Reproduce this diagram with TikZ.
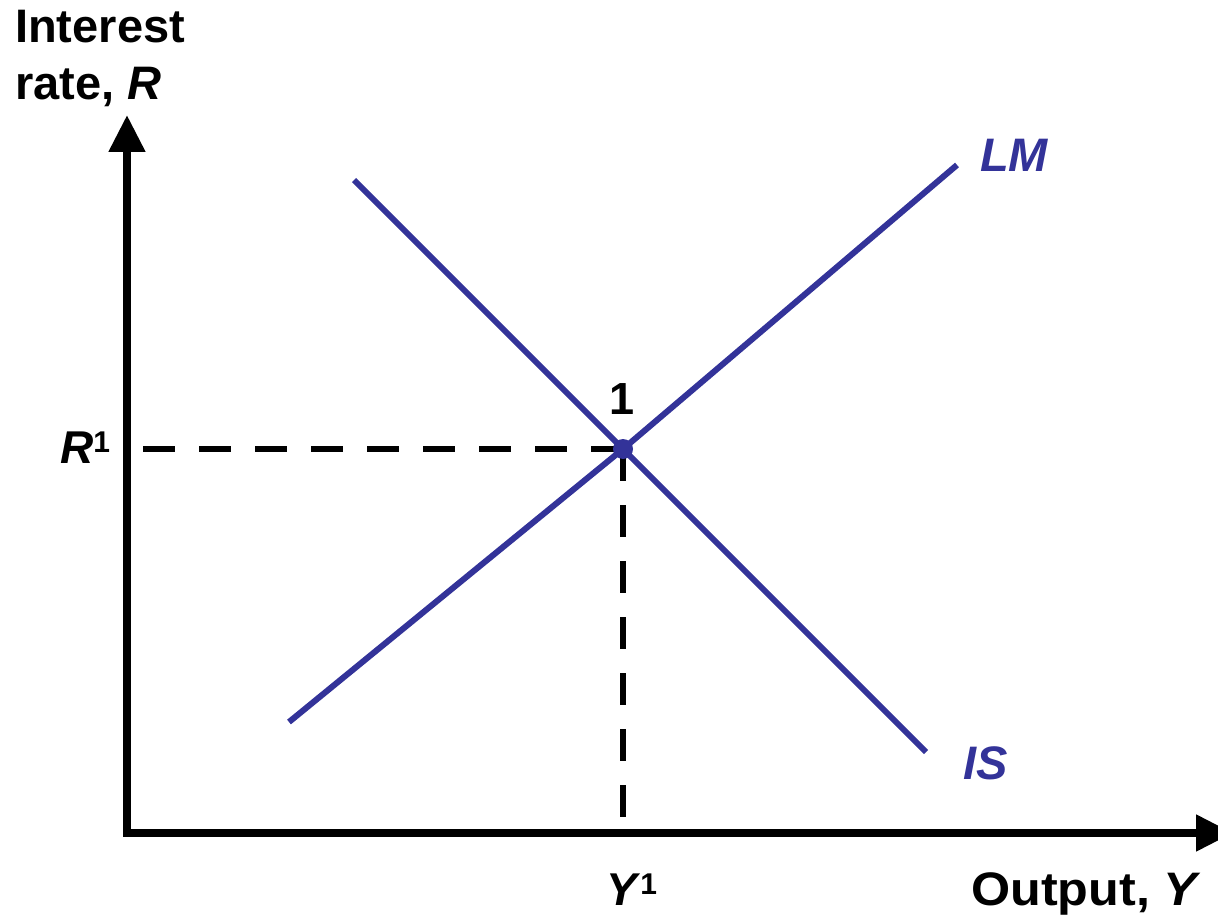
\documentclass[tikz,border=0pt]{standalone}
\usepackage{fontspec}
\setmainfont{Liberation Sans}
\usetikzlibrary{arrows.meta}
\definecolor{curveblue}{HTML}{333399}
\begin{document}
\begin{tikzpicture}[x=1pt,y=-1pt,
  axis/.style={line width=8pt, line join=miter,
    {Triangle[length=37pt,width=35pt]}-{Triangle[length=37pt,width=35pt]}},
  guide/.style={line width=6pt, dash pattern=on 32pt off 24pt},
  curve/.style={line width=6pt, draw=curveblue},
  lbl/.style={inner sep=0pt, anchor=base west, font=\bfseries\fontsize{47}{50}\selectfont},
  curvelbl/.style={lbl, text=curveblue, font=\bfseries\itshape\fontsize{47}{50}\selectfont}]
\useasboundingbox (0,0) rectangle (1218,917);
% axes
\coordinate (ytip) at (127,115);
\coordinate (corner) at (127,833);
\coordinate (xtip) at (1233,833);
\draw[axis] (ytip) -- (corner) -- (xtip);
% equilibrium and guides
\coordinate (eq) at (623,449);
\coordinate (hstart) at (143,449);
\coordinate (vend) at (623,817);
\draw[guide] (hstart) -- (eq);
\draw[guide] (eq) -- (vend);
% curves
\coordinate (isA) at (354,180);
\coordinate (isB) at (926,752);
\coordinate (lmA) at (289,722);
\coordinate (lmB) at (957,165);
\draw[curve] (isA) -- (isB);
\draw[curve] (lmA) -- (eq) -- (lmB);
\fill[curveblue] (eq) circle[radius=10pt];
% labels
\node[lbl] (ylab1) at (15,43) {Interest};
\node[lbl] (ylab2) at (15,100) {rate, \textit{R}};
\node[lbl, font=\bfseries\fontsize{46}{50}\selectfont] (rlab) at (60,463) {\textit{R}\raisebox{11pt}{\fontsize{30}{30}\selectfont 1}};
\node[lbl, font=\bfseries\fontsize{46}{50}\selectfont] (ylab) at (606,905) {\textit{Y}\raisebox{11pt}{\fontsize{30}{30}\selectfont 1}};
\node[lbl, font=\bfseries\fontsize{47}{50}\selectfont] (xlab) at (971,905) {\scalebox{1.07}[1]{Output, \textit{Y}}};
\node[inner sep=0pt, anchor=base, font=\bfseries\fontsize{45}{48}\selectfont] (eqlab) at (622,414) {1};
\node[curvelbl] (lmlab) at (980,172) {LM};
\node[curvelbl] (islab) at (963,779) {IS};
\end{tikzpicture}
\end{document}
